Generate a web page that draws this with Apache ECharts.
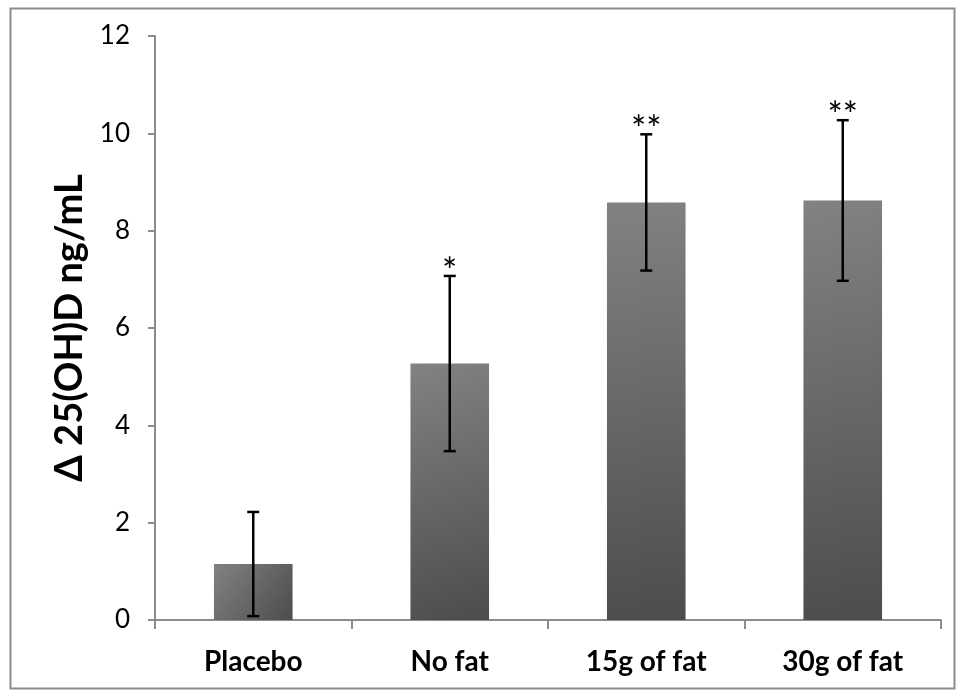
<!DOCTYPE html>
<html>
<head>
<meta charset="utf-8">
<script src="https://cdn.jsdelivr.net/npm/echarts@6/dist/echarts.min.js"></script>
<style>
html,body{margin:0;padding:0;background:#fff;}
#chart{width:960px;height:692px;}
</style>
</head>
<body>
<div id="chart"></div>
<script>
// Data
const categories = ['Placebo', 'No fat', '15g of fat', '30g of fat'];
const means = [1.15, 5.27, 8.58, 8.62];
const errors = [1.07, 1.8, 1.4, 1.65];
const significance = ['', '*', '**', '**'];
const yTicks = [0, 2, 4, 6, 8, 10, 12];

const FONT = 'Lato, "Open Sans", sans-serif';
const chart = echarts.init(document.getElementById('chart'));

const errData = categories.map((c, i) => [i, means[i] - errors[i], means[i] + errors[i], significance[i]]);

chart.setOption({
  animation: false,
  backgroundColor: '#fff',
  graphic: [{
    type: 'rect', left: 8, top: 6,
    shape: { width: 944, height: 680 },
    style: { fill: 'none', stroke: '#8c8c8c', lineWidth: 2 },
    silent: true, z: -1
  }],
  grid: { left: 155, right: 19, top: 36, bottom: 72 },
  xAxis: {
    type: 'category',
    data: categories,
    axisLine: { lineStyle: { color: '#8c8c8c', width: 2 } },
    axisTick: { show: true, length: 9, lineStyle: { color: '#8c8c8c', width: 2 } },
    axisLabel: { color: '#000', fontFamily: FONT, fontWeight: 'bold', fontSize: 28, margin: 28 }
  },
  yAxis: {
    type: 'value',
    min: yTicks[0], max: yTicks[yTicks.length - 1], interval: 2,
    name: 'Δ 25(OH)D ng/mL',
    nameLocation: 'middle',
    nameGap: 61,
    nameTextStyle: { color: '#000', fontFamily: FONT, fontWeight: 'bold', fontSize: 38 },
    axisLine: { show: true, lineStyle: { color: '#8c8c8c', width: 2 } },
    axisTick: { show: true, length: 7, lineStyle: { color: '#8c8c8c', width: 2 } },
    axisLabel: { color: '#000', fontFamily: FONT, fontSize: 26, margin: 25 },
    splitLine: { show: false }
  },
  series: [{
    type: 'bar',
    data: means,
    barWidth: '40%',
    itemStyle: {
      color: new echarts.graphic.LinearGradient(0, 0, 1, 1, [
        { offset: 0, color: '#828282' },
        { offset: 1, color: '#4c4c4c' }
      ])
    }
  }, {
    type: 'custom',
    data: errData,
    z: 10,
    renderItem: function (params, api) {
      const x = api.value(0);
      const lo = api.coord([x, api.value(1)]);
      const hi = api.coord([x, api.value(2)]);
      const hw = 6;
      const st = { stroke: '#000', lineWidth: 2.5 };
      const children = [
        { type: 'line', shape: { x1: lo[0], y1: lo[1], x2: hi[0], y2: hi[1] }, style: st },
        { type: 'line', shape: { x1: lo[0] - hw, y1: lo[1], x2: lo[0] + hw, y2: lo[1] }, style: st },
        { type: 'line', shape: { x1: hi[0] - hw, y1: hi[1], x2: hi[0] + hw, y2: hi[1] }, style: st }
      ];
      const sig = significance[params.dataIndex];
      if (sig) {
        children.push({
          type: 'text',
          style: {
            text: sig, x: hi[0], y: hi[1] + 14,
            align: 'center', verticalAlign: 'bottom',
            fill: '#000', font: '36px ' + FONT
          }
        });
      }
      return { type: 'group', children: children };
    }
  }]
});
</script>
</body>
</html>
